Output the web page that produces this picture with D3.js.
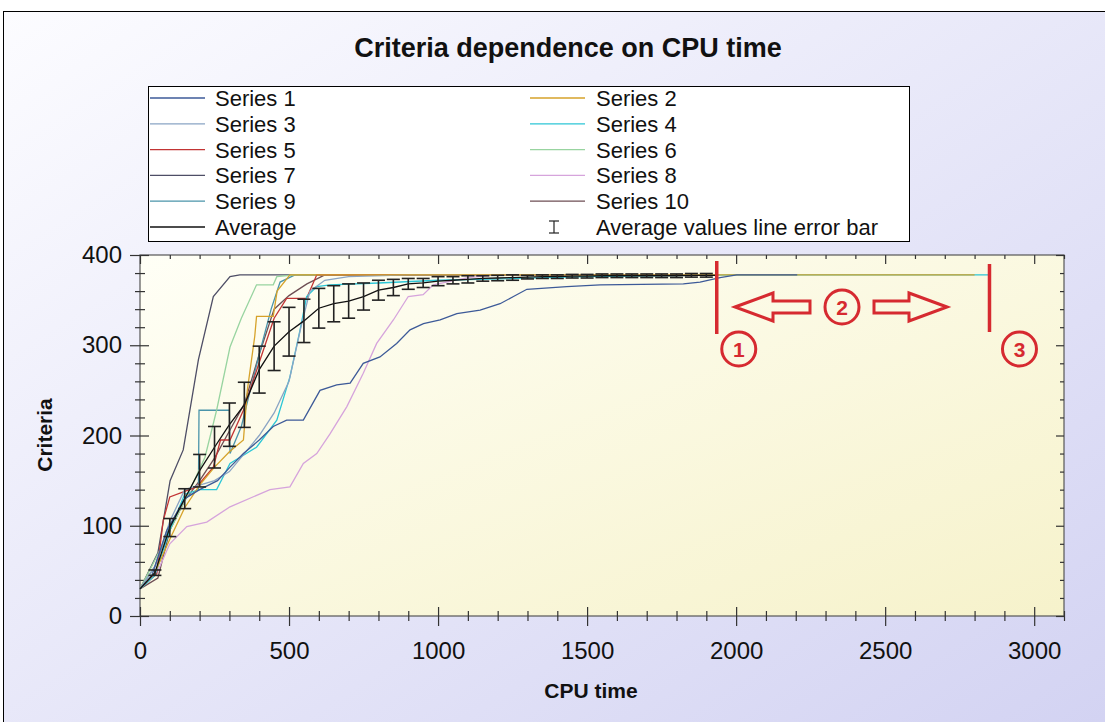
<!DOCTYPE html>
<html>
<head>
<meta charset="utf-8">
<script src="https://cdn.jsdelivr.net/npm/d3@7"></script>
<style>
body { margin: 0; background: #fff; }
svg { display: block; font-family: Arial, "Liberation Sans", sans-serif; }
</style>
</head>
<body>
<svg id="chart" width="1105" height="722"></svg>
<script>
// data: [cpu time, criteria]
var series1 = [[0,30],[40,45],[90,95],[150,130],[200,140],[260,150],[302,165],[347,180],[400,195],[447,210],[492,217],[548,217],[604,250],[660,256],[705,258],[749,280],[805,287],[861,302],[906,317],[951,324],[1007,328],[1063,335],[1141,339],[1208,346],[1253,354],[1298,362],[1432,365],[1544,367],[1823,368],[1879,370],[1946,375],[2002,378],[2205,378]];
var series2 = [[0,30],[50,48],[100,85],[150,120],[200,145],[250,165],[300,182],[347,195],[360,250],[385,310],[391,332],[447,332],[460,360],[503,378],[2800,378]];
var series3 = [[0,30],[50,55],[100,105],[150,140],[200,145],[250,150],[300,160],[350,180],[400,200],[450,225],[500,260],[540,320],[570,360],[620,372],[700,376],[900,378],[1935,378]];
var series4 = [[0,30],[50,45],[100,95],[150,135],[200,140],[257,140],[302,169],[391,187],[459,217],[503,265],[537,317],[559,354],[593,365],[638,367],[800,369],[1000,372],[1500,376],[2000,378],[2845,378]];
var series5 = [[0,30],[56,47],[78,106],[100,132],[190,143],[246,165],[270,195],[302,195],[347,228],[403,284],[450,330],[492,352],[559,352],[593,378],[1935,378]];
var series6 = [[0,30],[78,80],[168,140],[218,176],[257,228],[302,298],[340,330],[391,367],[447,367],[459,376],[520,378],[1935,378]];
var series7 = [[0,30],[60,70],[101,150],[145,184],[196,284],[246,354],[302,376],[335,378],[1935,378]];
var series8 = [[0,30],[56,47],[100,80],[157,99],[224,104],[302,121],[436,140],[503,143],[548,169],[593,180],[638,202],[694,232],[749,269],[794,302],[850,328],[900,354],[950,356],[984,367],[1100,375],[1200,378],[1935,378]];
var series9 = [[0,30],[50,55],[100,100],[150,130],[196,140],[198,228],[300,228],[302,180],[340,210],[370,250],[400,290],[440,340],[470,370],[520,378],[1935,378]];
var series10 = [[0,30],[60,42],[100,95],[150,128],[200,150],[250,175],[300,205],[350,235],[400,290],[450,340],[500,355],[560,368],[620,378],[1935,378]];

var avgTime  = [0,50,100,150,200,250,300,350,400,450,500,550,600,650,700,750,800,850,900,950,1000,1050,1100,1150,1200,1250,1300,1350,1400,1450,1500,1550,1600,1650,1700,1750,1800,1850,1900,1935];
var avgValue = [30,48,98,130,161,187,212,234,273,299,315,327,341,346,349,354,361,364,368,369,371,372,373,374,374.5,375,375.5,376,376,376.5,376.5,377,377,377,377,377,377,377.5,377.5,377.5];
var avgError = [0,3,10,11,18,23,24,25,26,27,27,24,22,20,19,15,11,9,6,5,5,4,4,3,3,3,2,2,2,2,2,2,2,2,2,2,2,2,2,0];

var seriesNames = ["Series 1","Series 2","Series 3","Series 4","Series 5","Series 6","Series 7","Series 8","Series 9","Series 10"];
var xMajor = [0,500,1000,1500,2000,2500,3000];
var xMinor = [100,200,300,400,600,700,800,900,1100,1200,1300,1400,1600,1700,1800,1900,2100,2200,2300,2400,2600,2700,2800,2900,3100];
var yMajor = [0,100,200,300,400];
var yMinor = [20,40,60,80,120,140,160,180,220,240,260,280,320,340,360,380];

var allSeries = [series1,series2,series3,series4,series5,series6,series7,series8,series9,series10];
var colors = ["#3d5a98","#d6a22a","#8aa4c4","#2cc6d6","#c23434","#98d4a0","#4e4e66","#d6a4dc","#4a94aa","#6e4e54"];

// positions of the red marks (cpu time of lines 1 and 3)
var mark1 = 1935, mark3 = 2850;

var svg = d3.select("#chart");
var defs = svg.append("defs");

var bg = defs.append("linearGradient").attr("id","bg").attr("x1",0).attr("y1",0).attr("x2",1).attr("y2",1);
bg.append("stop").attr("offset","0%").attr("stop-color","#fcfcff");
bg.append("stop").attr("offset","100%").attr("stop-color","#d2d2f2");

var pg = defs.append("linearGradient").attr("id","plotbg").attr("x1",0).attr("y1",0).attr("x2",1).attr("y2",1);
pg.append("stop").attr("offset","0%").attr("stop-color","#fffff6");
pg.append("stop").attr("offset","100%").attr("stop-color","#f6f2cb");

// outer frame
svg.append("rect").attr("x",3.5).attr("y",11.5).attr("width",1120).attr("height",730)
  .attr("fill","url(#bg)").attr("stroke","#000").attr("stroke-width",1);

var x = d3.scaleLinear().domain([0,3100]).range([140,1064]);
var y = d3.scaleLinear().domain([0,400]).range([616,255]);

// plot area
svg.append("rect").attr("x",140).attr("y",255).attr("width",924).attr("height",361)
  .attr("fill","url(#plotbg)").attr("stroke","#555").attr("stroke-width",1.2);

// title
svg.append("text").attr("x",568).attr("y",57).attr("text-anchor","middle")
  .attr("font-size",27).attr("font-weight","bold").attr("fill","#111")
  .text("Criteria dependence on CPU time");

// axes, ticks cross the axis line
function styleAxis(g){
  g.select(".domain").remove();
  g.selectAll(".tick line").attr("stroke","#333").attr("stroke-width",1.2);
}
var fmt = d3.format("d");

svg.append("g").attr("transform","translate(0,616)")
  .call(d3.axisBottom(x).tickValues(xMajor).tickSize(10).tickPadding(16).tickFormat(fmt))
  .call(styleAxis)
  .selectAll("text").attr("font-size",24).attr("fill","#111").attr("font-family","Arial, Liberation Sans, sans-serif");
svg.append("g").attr("transform","translate(0,616)").call(d3.axisBottom(x).tickValues(xMinor).tickSize(5).tickFormat("")).call(styleAxis);
svg.append("g").attr("transform","translate(0,616)").call(d3.axisTop(x).tickValues(xMinor).tickSize(5).tickFormat("")).call(styleAxis);
svg.append("g").attr("transform","translate(0,616)").call(d3.axisTop(x).tickValues(xMajor).tickSize(9).tickFormat("")).call(styleAxis);
// top mirror
svg.append("g").attr("transform","translate(0,255)").call(d3.axisBottom(x).tickValues(xMinor).tickSize(4).tickFormat("")).call(styleAxis);
svg.append("g").attr("transform","translate(0,255)").call(d3.axisBottom(x).tickValues(xMajor).tickSize(9).tickFormat("")).call(styleAxis);

svg.append("g").attr("transform","translate(140,0)")
  .call(d3.axisLeft(y).tickValues(yMajor).tickSize(10).tickPadding(8).tickFormat(fmt))
  .call(styleAxis)
  .selectAll("text").attr("font-size",24).attr("fill","#111").attr("font-family","Arial, Liberation Sans, sans-serif");
svg.append("g").attr("transform","translate(140,0)").call(d3.axisLeft(y).tickValues(yMinor).tickSize(5).tickFormat("")).call(styleAxis);
svg.append("g").attr("transform","translate(140,0)").call(d3.axisRight(y).tickValues(yMinor).tickSize(5).tickFormat("")).call(styleAxis);
svg.append("g").attr("transform","translate(140,0)").call(d3.axisRight(y).tickValues(yMajor).tickSize(9).tickFormat("")).call(styleAxis);
// right mirror
svg.append("g").attr("transform","translate(1064,0)").call(d3.axisLeft(y).tickValues(yMinor).tickSize(4).tickFormat("")).call(styleAxis);
svg.append("g").attr("transform","translate(1064,0)").call(d3.axisLeft(y).tickValues(yMajor).tickSize(8).tickFormat("")).call(styleAxis);

// axis titles
svg.append("text").attr("x",591).attr("y",698).attr("text-anchor","middle")
  .attr("font-size",21).attr("font-weight","bold").attr("fill","#111").text("CPU time");
svg.append("text").attr("transform","translate(52,435) rotate(-90)").attr("text-anchor","middle")
  .attr("font-size",21).attr("font-weight","bold").attr("fill","#111").text("Criteria");

// series lines, drawn last-to-first so series 1 sits on top
var line = d3.line().x(function(d){ return x(d[0]); }).y(function(d){ return y(d[1]); });
var order = d3.range(allSeries.length).reverse();

svg.append("g").selectAll("path")
  .data(order)
  .enter()
  .append("path")
  .attr("d", function(i){ return line(allSeries[i]); })
  .attr("fill","none")
  .attr("stroke", function(i){ return colors[i]; })
  .attr("stroke-width",1.3);

// average + error bars
var avg = avgTime.map(function(t,i){ return [t, avgValue[i], avgError[i]]; });
svg.append("path").datum(avg).attr("d", line)
  .attr("fill","none").attr("stroke","#111").attr("stroke-width",1.3);

var eb = svg.append("g").attr("stroke","#222").attr("stroke-width",1.6);
avg.filter(function(d){ return d[2] > 0; }).forEach(function(d){
  var cx = x(d[0]);
  eb.append("line").attr("x1",cx).attr("x2",cx).attr("y1",y(d[1]+d[2])).attr("y2",y(d[1]-d[2]));
  eb.append("line").attr("x1",cx-6.5).attr("x2",cx+6.5).attr("y1",y(d[1]+d[2])).attr("y2",y(d[1]+d[2]));
  eb.append("line").attr("x1",cx-6.5).attr("x2",cx+6.5).attr("y1",y(d[1]-d[2])).attr("y2",y(d[1]-d[2]));
});

// legend
var lg = svg.append("g");
lg.append("rect").attr("x",148.5).attr("y",86.5).attr("width",761).attr("height",155)
  .attr("fill","#fff").attr("stroke","#000").attr("stroke-width",1);

var legendItems = seriesNames.map(function(n,i){ return {name:n, color:colors[i], kind:"line"}; });
legendItems.push({name:"Average", color:"#111", kind:"line"});
legendItems.push({name:"Average values line error bar", color:"#222", kind:"bar"});

legendItems.forEach(function(it,i){
  var col = i % 2, row = Math.floor(i / 2);
  var cy = 98 + row * 25.8;
  var lx = col == 0 ? 150 : 530;
  var tx = col == 0 ? 215 : 596;
  if(it.kind == "line"){
    lg.append("line").attr("x1",lx).attr("x2",lx+55).attr("y1",cy).attr("y2",cy)
      .attr("stroke",it.color).attr("stroke-width",1.3);
  } else {
    var bx = 554;
    lg.append("line").attr("x1",bx).attr("x2",bx).attr("y1",cy-6).attr("y2",cy+6).attr("stroke",it.color).attr("stroke-width",1.2);
    lg.append("line").attr("x1",bx-5).attr("x2",bx+5).attr("y1",cy-6).attr("y2",cy-6).attr("stroke",it.color).attr("stroke-width",1.2);
    lg.append("line").attr("x1",bx-5).attr("x2",bx+5).attr("y1",cy+6).attr("y2",cy+6).attr("stroke",it.color).attr("stroke-width",1.2);
  }
  lg.append("text").attr("x",tx).attr("y",cy+8).attr("font-size",22).attr("fill","#111").text(it.name);
});

// red annotations
var red = "#d62a30";
var ann = svg.append("g").attr("stroke",red).attr("fill","none").attr("stroke-width",3);
ann.append("line").attr("x1",x(mark1)).attr("x2",x(mark1)).attr("y1",261).attr("y2",334).attr("stroke-width",3.5);
ann.append("line").attr("x1",x(mark3)).attr("x2",x(mark3)).attr("y1",264).attr("y2",332).attr("stroke-width",3.5);

var circles = [[x(mark1)+22,349,"1"],[842,307,"2"],[x(mark3)+30,349,"3"]];
circles.forEach(function(c){
  ann.append("circle").attr("cx",c[0]).attr("cy",c[1]).attr("r",17);
  svg.append("text").attr("x",c[0]).attr("y",c[1]+7.5).attr("text-anchor","middle")
    .attr("font-size",21).attr("font-weight","bold").attr("fill",red).text(c[2]);
});

// hollow block arrows
ann.append("path").attr("d","M735,307 L773,293 L773,301 L810,301 L810,313 L773,313 L773,321 Z").attr("stroke-linejoin","miter");
ann.append("path").attr("d","M947,307 L909,293 L909,301 L874,301 L874,313 L909,313 L909,321 Z").attr("stroke-linejoin","miter");
</script>
</body>
</html>
